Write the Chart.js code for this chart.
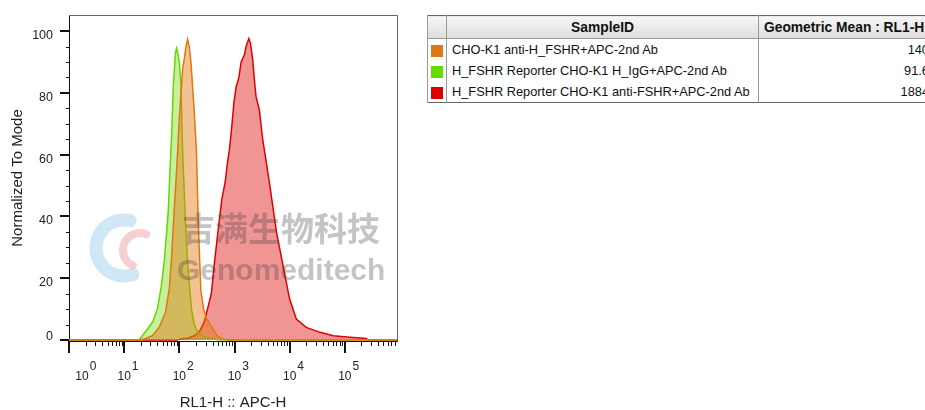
<!DOCTYPE html>
<html>
<head>
<meta charset="utf-8">
<script src="https://cdn.jsdelivr.net/npm/chart.js@4.4.1/dist/chart.umd.min.js"></script>
<style>
  html, body { margin: 0; padding: 0; background: #fff; }
  body { width: 925px; height: 410px; overflow: hidden; position: relative; font-family: "Liberation Sans", Arial, sans-serif; }
  #plot { position: absolute; left: 0; top: 0; width: 420px; height: 410px; }
  #stats { position: absolute; left: 427px; top: 15px; width: 504px; border-collapse: collapse; table-layout: fixed; font-size: 12.8px; color: #111; border: 1px solid #666; }
  #stats th, #stats td { padding: 0; white-space: nowrap; overflow: hidden; border-left: 1px solid #999; border-right: 1px solid #999; }
  #stats th { height: 22px; font-size: 13.8px; font-weight: bold; background: linear-gradient(#f6f6f6, #dedede); border-bottom: 1px solid #999; }
  #stats td { height: 21px; }
  #stats .sw { text-align: center; }
  #stats .sw span { display: inline-block; width: 12px; height: 12px; vertical-align: middle; }
  #stats .name { padding-left: 5px; }
  #stats .val { text-align: right; padding-right: 2px; }
</style>
</head>
<body>
<div id="plot"><canvas id="c"></canvas></div>
<table id="stats">
  <colgroup><col style="width:19px"><col style="width:312px"><col style="width:173px"></colgroup>
  <thead><tr><th></th><th>SampleID</th><th style="text-align:left;padding-left:5px">Geometric Mean : RL1-H</th></tr></thead>
  <tbody id="rows"></tbody>
</table>
<script>
// x axis is in decades (log10 of RL1-H), y is % of mode
const decades = [0, 1, 2, 3, 4, 5];
const xMax = 5.945;
const yTicks = [0, 20, 40, 60, 80, 100];
const yMax = 105.2;

// CHO-K1 anti-H_FSHR+APC-2nd Ab
const orangeLog = [0, 1.30, 1.39, 1.51, 1.63, 1.75, 1.82, 1.86, 1.90, 1.96, 2.00, 2.03, 2.06, 2.09, 2.12, 2.15, 2.18, 2.21, 2.27, 2.31, 2.33, 2.35, 2.37, 2.39, 2.44, 2.49, 2.58, 2.68, 2.79, 2.90, 5.945];
const orangePct = [0, 0, 0.5, 1.4, 4, 9, 17, 27, 40, 58, 72, 80, 88, 91, 95, 97.3, 95, 90, 74, 61, 47, 35, 25, 16, 10, 7, 4.5, 1.4, 0.3, 0, 0];

// H_FSHR Reporter CHO-K1 H_IgG+APC-2nd Ab
const greenLog = [0, 1.27, 1.31, 1.40, 1.52, 1.60, 1.67, 1.73, 1.77, 1.80, 1.83, 1.86, 1.89, 1.93, 1.95, 1.97, 2.00, 2.03, 2.06, 2.11, 2.15, 2.18, 2.22, 2.27, 2.32, 2.40, 2.50, 2.65, 2.75, 5.945];
const greenPct = [0, 0, 1, 3, 6, 10, 17, 26, 35, 42, 55, 66, 82, 93, 94.4, 93, 90, 82, 61, 38, 25, 18, 10, 5, 3, 1.5, 0.8, 0.3, 0, 0];

// H_FSHR Reporter CHO-K1 anti-FSHR+APC-2nd Ab
const redLog = [0, 1.95, 2.05, 2.15, 2.27, 2.36, 2.45, 2.51, 2.58, 2.63, 2.70, 2.77, 2.83, 2.87, 2.91, 2.95, 2.99, 3.03, 3.08, 3.12, 3.18, 3.21, 3.26, 3.29, 3.33, 3.36, 3.39, 3.45, 3.51, 3.58, 3.64, 3.76, 3.88, 4.00, 4.12, 4.30, 4.55, 4.79, 5.09, 5.39, 5.42, 5.945];
const redPct = [0, 0, 0.4, 0.6, 1.4, 2.6, 5.8, 10, 15, 24, 35, 45.5, 51, 57, 62, 69, 77, 82, 85, 90, 92.3, 95, 97.6, 96, 90.6, 84.2, 78.8, 74.5, 65, 57, 50, 35, 24, 13.2, 6.8, 4.1, 2.5, 1.4, 0.9, 0.5, 0, 0];

const samples = ['CHO-K1 anti-H_FSHR+APC-2nd Ab', 'H_FSHR Reporter CHO-K1 H_IgG+APC-2nd Ab', 'H_FSHR Reporter CHO-K1 anti-FSHR+APC-2nd Ab'];
const geoMeans = ['140', '91.6', '1884'];
const swatches = ['rgb(222,120,20)', 'rgb(102,221,0)', 'rgb(221,0,0)'];

const font = '"Liberation Sans", Arial, sans-serif';

// stats table
const tbody = document.getElementById('rows');
samples.forEach((s, i) => {
  const tr = document.createElement('tr');
  tr.innerHTML = '<td class="sw"><span style="background:' + swatches[i] + '"></span></td>' +
    '<td class="name">' + s + '</td><td class="val">' + geoMeans[i] + '</td>';
  tbody.appendChild(tr);
});

const toPts = (xs, ys) => xs.map((x, i) => ({ x: x, y: ys[i] }));

// ticks + labels the way FlowJo draws them
const axisMarks = {
  id: 'axisMarks',
  afterDraw(chart) {
    const { ctx, chartArea: a, scales: { x, y } } = chart;
    ctx.save();
    ctx.strokeStyle = '#666';
    ctx.lineWidth = 1;
    ctx.beginPath();
    ctx.moveTo(a.left, a.top + 0.5);
    ctx.lineTo(a.right + 0.5, a.top + 0.5);
    ctx.lineTo(a.right + 0.5, a.bottom);
    ctx.stroke();

    ctx.strokeStyle = '#111';
    for (let v = 0; v <= 100; v += 5) {
      const py = Math.round(y.getPixelForValue(v));
      const major = v % 20 === 0;
      ctx.lineWidth = major ? 2 : 1;
      ctx.beginPath();
      ctx.moveTo(a.left - (major ? 9 : 3), major ? py : py + 0.5);
      ctx.lineTo(a.left, major ? py : py + 0.5);
      ctx.stroke();
    }
    decades.forEach(k => {
      for (let m = 1; m <= 9; m++) {
        const v = k + Math.log10(m);
        if (v > xMax) break;
        const px = Math.round(x.getPixelForValue(v));
        const major = m === 1;
        ctx.lineWidth = major ? 2 : 1;
        ctx.beginPath();
        ctx.moveTo(major ? px : px + 0.5, a.bottom);
        ctx.lineTo(major ? px : px + 0.5, a.bottom + (major ? 12 : 5));
        ctx.stroke();
      }
    });

    ctx.fillStyle = '#222';
    ctx.font = '12.5px ' + font;
    ctx.textAlign = 'right';
    ctx.textBaseline = 'middle';
    yTicks.forEach(v => {
      const py = y.getPixelForValue(v);
      ctx.fillText(String(v), a.left - 16, py + (v === 0 ? -4 : 4.5));
    });

    ctx.textBaseline = 'alphabetic';
    decades.forEach(k => {
      let px = x.getPixelForValue(k);
      ctx.font = '12px ' + font;
      const w = ctx.measureText('10').width;
      px = Math.max(px, a.left + 13);
      ctx.textAlign = 'center';
      ctx.fillText('10', px, a.bottom + 39);
      ctx.textAlign = 'left';
      ctx.fillText(String(k), px + w / 2 + 1, a.bottom + 28.5);
    });
    ctx.restore();
  }
};

// company watermark over the plot
const watermark = {
  id: 'watermark',
  afterDraw(chart) {
    const ctx = chart.ctx;
    ctx.save();
    ctx.lineCap = 'round';
    ctx.strokeStyle = 'rgba(120,190,225,0.35)';
    ctx.lineWidth = 13;
    ctx.beginPath();
    ctx.arc(124, 248, 28, -1.35, 1.25, true);
    ctx.stroke();
    ctx.strokeStyle = 'rgba(230,120,120,0.35)';
    ctx.lineWidth = 8;
    ctx.beginPath();
    ctx.arc(140, 250, 17, -1.2, 2.0, true);
    ctx.stroke();
    ctx.fillStyle = 'rgba(60,60,60,0.3)';
    ctx.textAlign = 'left';
    ctx.textBaseline = 'middle';
    ctx.font = 'bold 33px "Noto Sans CJK SC"';
    ctx.fillText('吉满生物科技', 182, 228);
    ctx.textBaseline = 'alphabetic';
    ctx.font = 'bold 30px ' + font;
    ctx.fillText('Genomeditech', 177, 280);
    ctx.restore();
  }
};

new Chart(document.getElementById('c'), {
  type: 'line',
  data: {
    datasets: [
      { data: toPts(orangeLog, orangePct), borderColor: 'rgb(228,118,14)', backgroundColor: 'rgba(228,118,14,0.45)', fill: 'origin' },
      { data: toPts(greenLog, greenPct), borderColor: 'rgb(104,214,0)', backgroundColor: 'rgba(104,214,0,0.38)', fill: 'origin' },
      { data: toPts(redLog, redPct), borderColor: 'rgb(222,0,0)', backgroundColor: 'rgba(222,0,0,0.42)', fill: 'origin' }
    ]
  },
  options: {
    responsive: true,
    maintainAspectRatio: false,
    animation: false,
    layout: { padding: { top: 15, right: 23, left: 0, bottom: 0 } },
    elements: { point: { radius: 0 }, line: { tension: 0, borderWidth: 1.5 } },
    plugins: { legend: { display: false }, tooltip: { enabled: false } },
    scales: {
      x: {
        type: 'linear', min: 0, max: xMax,
        grid: { display: false, drawTicks: false },
        border: { display: true, color: '#111', width: 1 },
        ticks: { display: false },
        title: { display: true, text: 'RL1-H :: APC-H', color: '#222', font: { family: font, size: 15, lineHeight: 1 }, padding: { top: 0, bottom: 0 } },
        afterFit: s => { s.height = 69; }
      },
      y: {
        min: -0.3, max: yMax,
        grid: { display: false, drawTicks: false },
        border: { display: true, color: '#111', width: 1 },
        ticks: { display: false },
        title: { display: true, text: 'Normalized To Mode', color: '#222', font: { family: font, size: 15, lineHeight: 1.2 }, padding: { top: 8.5, bottom: 0 } },
        afterFit: s => { s.width = 69; }
      }
    }
  },
  plugins: [axisMarks, watermark]
});
</script>
</body>
</html>
